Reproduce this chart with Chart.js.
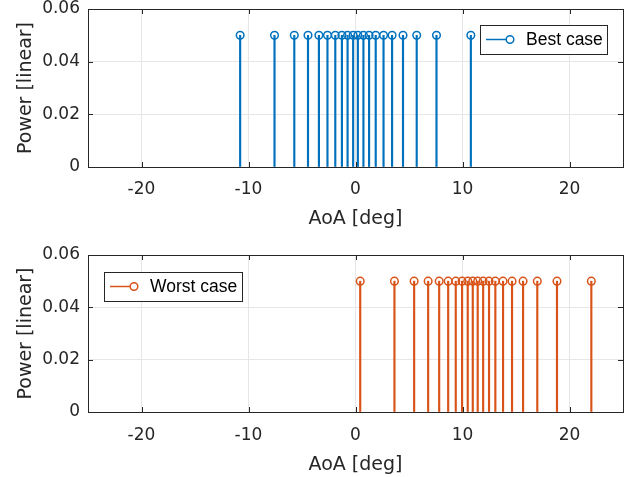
<!DOCTYPE html>
<html>
<head>
<meta charset="utf-8">
<script src="https://cdn.jsdelivr.net/npm/chart.js@4"></script>
<style>
  body { margin: 0; background: #fff; }
  canvas { position: absolute; left: 0; }
  #top-canvas { top: 0; }
  #bottom-canvas { top: 238px; }
</style>
</head>
<body>
<canvas id="top-canvas" width="631" height="238"></canvas>
<canvas id="bottom-canvas" width="631" height="239"></canvas>
<script>
const bestAoA = [-10.78, -7.57, -5.72, -4.44, -3.42, -2.62, -1.89, -1.27, -0.74, -0.22,
                 0.22, 0.74, 1.27, 1.89, 2.62, 3.42, 4.44, 5.72, 7.57, 10.78];
const bestPower = [0.05, 0.05, 0.05, 0.05, 0.05, 0.05, 0.05, 0.05, 0.05, 0.05,
                   0.05, 0.05, 0.05, 0.05, 0.05, 0.05, 0.05, 0.05, 0.05, 0.05];
const worstAoA = [0.44, 3.64, 5.48, 6.79, 7.82, 8.66, 9.37, 9.96, 10.49, 10.96,
                  11.42, 11.93, 12.48, 13.07, 13.79, 14.63, 15.66, 16.99, 18.83, 22.04];
const worstPower = [0.05, 0.05, 0.05, 0.05, 0.05, 0.05, 0.05, 0.05, 0.05, 0.05,
                    0.05, 0.05, 0.05, 0.05, 0.05, 0.05, 0.05, 0.05, 0.05, 0.05];
const xTicks = [-20, -10, 0, 10, 20];
const yTicks = [0, 0.02, 0.04, 0.06];

const BLUE = '#0072BD';
const ORANGE = '#D95319';
const AXIS = '#262626';
const FONT = "'DejaVu Sans', sans-serif";
const LEGEND_FONT = "'Liberation Sans', Arial, sans-serif";

Chart.defaults.font.family = FONT;
Chart.defaults.color = AXIS;

// matlab style box round the axes, with inward tick marks
const boxAxes = {
  id: 'boxAxes',
  afterDatasetsDraw(chart) {
    const { ctx, chartArea: a, scales: { x, y } } = chart;
    ctx.save();
    ctx.strokeStyle = AXIS;
    ctx.lineWidth = 1;
    ctx.beginPath();
    x.ticks.forEach(t => {
      const px = Math.round(x.getPixelForValue(t.value)) + 0.5;
      ctx.moveTo(px, a.bottom); ctx.lineTo(px, a.bottom - 5);
      ctx.moveTo(px, a.top); ctx.lineTo(px, a.top + 5);
    });
    y.ticks.forEach(t => {
      const py = Math.round(y.getPixelForValue(t.value)) + 0.5;
      ctx.moveTo(a.left, py); ctx.lineTo(a.left + 5, py);
      ctx.moveTo(a.right, py); ctx.lineTo(a.right - 5, py);
    });
    ctx.stroke();
    ctx.strokeRect(Math.round(a.left) + 0.5, Math.round(a.top) + 0.5,
                   Math.round(a.width), Math.round(a.height));
    ctx.restore();
  }
};

// legend entry drawn as stem marker: line + open circle
const stemLegend = {
  id: 'stemLegend',
  afterDraw(chart, args, opts) {
    const ctx = chart.ctx;
    const cy = opts.top + opts.height / 2;
    ctx.save();
    ctx.fillStyle = '#fff';
    ctx.fillRect(opts.left, opts.top, opts.width, opts.height);
    ctx.strokeStyle = AXIS;
    ctx.lineWidth = 1;
    ctx.strokeRect(opts.left + 0.5, opts.top + 0.5, opts.width, opts.height);
    ctx.strokeStyle = opts.color;
    ctx.lineWidth = 1.5;
    ctx.beginPath();
    ctx.moveTo(opts.left + 6, cy);
    ctx.lineTo(opts.left + 26, cy);
    ctx.stroke();
    ctx.beginPath();
    ctx.arc(opts.left + 30, cy, 3.8, 0, Math.PI * 2);
    ctx.stroke();
    ctx.fillStyle = '#000';
    ctx.font = '17.5px ' + LEGEND_FONT;
    ctx.textBaseline = 'middle';
    ctx.fillText(opts.label, opts.left + 46, cy + 1);
    ctx.restore();
  }
};

function makeChart(id, aoa, power, color, label, geo) {
  const points = aoa.map((a, i) => ({ x: a, y: power[i] }));
  return new Chart(document.getElementById(id), {
    type: 'bar',
    plugins: [boxAxes, stemLegend],
    data: {
      datasets: [
        {
          type: 'scatter',
          label: label,
          data: points,
          pointRadius: 3.8,
          pointHoverRadius: 3.8,
          borderColor: color,
          borderWidth: 1.5,
          backgroundColor: 'rgba(0,0,0,0)',
          order: 1,
        },
        {
          type: 'bar',
          label: label,
          data: points,
          backgroundColor: color,
          barThickness: 1.5,
          order: 2,
        }
      ]
    },
    options: {
      responsive: false,
      animation: false,
      layout: { padding: { top: geo.top, right: 8, left: 0, bottom: 0 } },
      plugins: {
        legend: { display: false },
        tooltip: { enabled: false },
        stemLegend: geo.legend,
      },
      scales: {
        x: {
          type: 'linear',
          min: -25,
          max: 25,
          offset: false,
          afterBuildTicks: axis => { axis.ticks = xTicks.map(v => ({ value: v })); },
          afterFit: axis => {
            axis.height = geo.xHeight;
            axis.paddingLeft = 0;
            axis.paddingRight = 0;
          },
          grid: { color: '#e6e6e6', drawTicks: false, offset: false },
          border: { display: false },
          ticks: { font: { size: 17 }, padding: geo.xTickPad, maxRotation: 0 },
          title: {
            display: true,
            text: 'AoA [deg]',
            font: { size: 19 },
            padding: { top: 0, bottom: geo.xTitlePad },
          }
        },
        y: {
          min: 0,
          max: 0.06,
          afterBuildTicks: axis => { axis.ticks = yTicks.map(v => ({ value: v })); },
          afterFit: axis => {
            axis.width = 88;
            axis.paddingTop = 0;
            axis.paddingBottom = 0;
          },
          grid: { color: '#e6e6e6', drawTicks: false },
          border: { display: false },
          ticks: {
            font: { size: 17 },
            padding: 8,
            callback: v => v === 0 ? '0' : v.toFixed(2),
          },
          title: {
            display: true,
            text: 'Power [linear]',
            font: { size: 19 },
            padding: { top: 15, bottom: 0 },
          }
        }
      }
    }
  });
}

makeChart('top-canvas', bestAoA, bestPower, BLUE, 'Best case', {
  top: 9, xHeight: 71, xTickPad: 12, xTitlePad: 8,
  legend: { left: 480, top: 25, width: 127, height: 29, color: BLUE, label: 'Best case' }
});
makeChart('bottom-canvas', worstAoA, worstPower, ORANGE, 'Worst case', {
  top: 17, xHeight: 65, xTickPad: 13, xTitlePad: 1,
  legend: { left: 104, top: 34, width: 138, height: 29, color: ORANGE, label: 'Worst case' }
});
</script>
</body>
</html>
